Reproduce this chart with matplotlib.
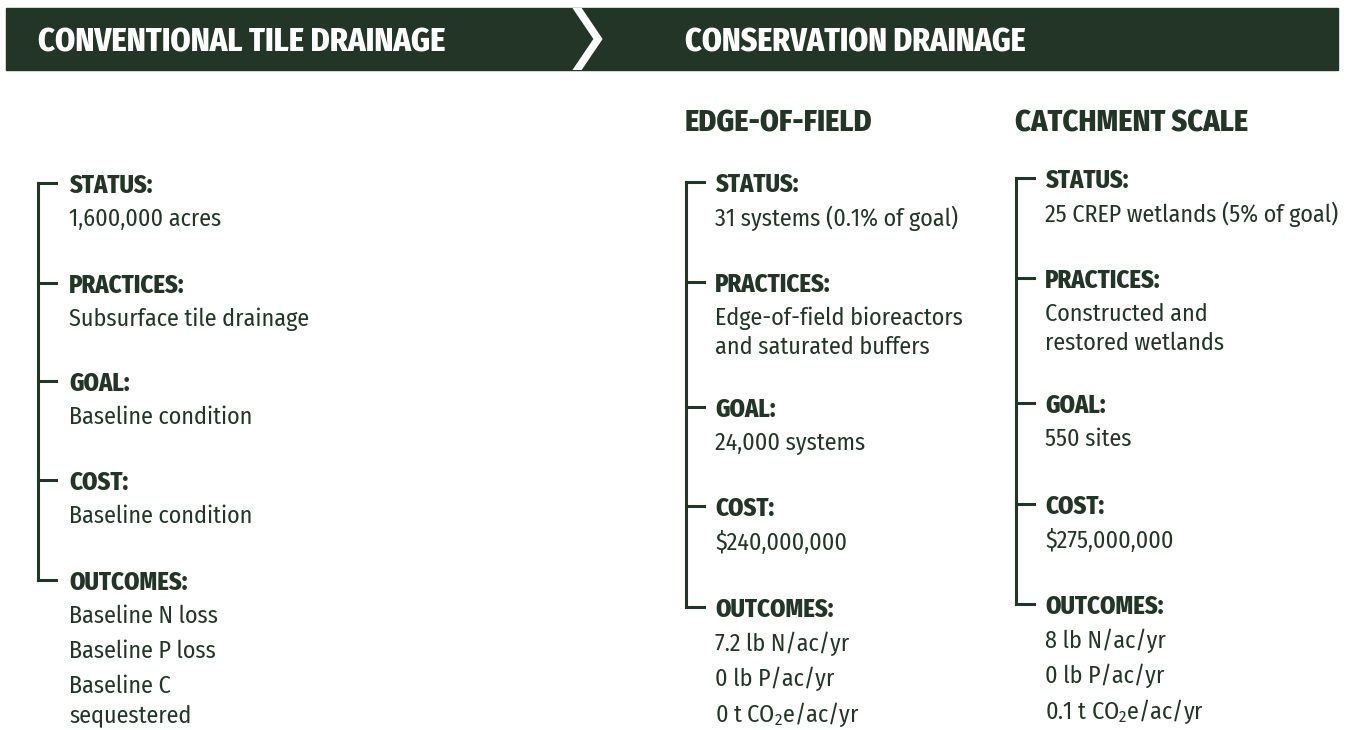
import matplotlib
matplotlib.use('Agg')
import matplotlib.pyplot as plt
from matplotlib import font_manager
from matplotlib.patches import Rectangle

# ---- data ----
header_left = 'CONVENTIONAL TILE DRAINAGE'
header_right = 'CONSERVATION DRAINAGE'
sub_titles = ['EDGE-OF-FIELD', 'CATCHMENT SCALE']
section_labels = ['STATUS:', 'PRACTICES:', 'GOAL:', 'COST:', 'OUTCOMES:']

# each section: list of items, an item may wrap over several lines (\n)
conventional = [['1,600,000 acres'],
                ['Subsurface tile drainage'],
                ['Baseline condition'],
                ['Baseline condition'],
                ['Baseline N loss', 'Baseline P loss', 'Baseline C\nsequestered']]
edge_of_field = [['31 systems (0.1% of goal)'],
                 ['Edge-of-field bioreactors\nand saturated buffers'],
                 ['24,000 systems'],
                 ['$240,000,000'],
                 ['7.2 lb N/ac/yr', '0 lb P/ac/yr', '0 t CO$_2$e/ac/yr']]
catchment = [['25 CREP wetlands (5% of goal)'],
             ['Constructed and\nrestored wetlands'],
             ['550 sites'],
             ['$275,000,000'],
             ['8 lb N/ac/yr', '0 lb P/ac/yr', '0.1 t CO$_2$e/ac/yr']]

# ---- layout ----
GREEN = '#233527'
avail = {f.name for f in font_manager.fontManager.ttflist}
def pick(*names):
    for n in names:
        if n in avail:
            return n
    return 'DejaVu Sans'
FONT = pick('Fira Sans Condensed', 'PT Sans Narrow', 'Roboto Condensed', 'Open Sans')
plt.rcParams['font.family'] = [FONT, 'DejaVu Sans']
plt.rcParams['mathtext.fontset'] = 'custom'
plt.rcParams['mathtext.rm'] = FONT
plt.rcParams['mathtext.default'] = 'regular'

columns = [
    dict(x=38, tx=69, label_y=[183, 283, 381, 480, 580], sections=conventional),
    dict(x=686, tx=715, label_y=[182, 282, 407, 506, 607], sections=edge_of_field),
    dict(x=1016, tx=1045, label_y=[178, 278, 403, 504, 604], sections=catchment),
]
first_gap = 34
item_gap = 35
wrap_gap = 29

fig = plt.figure(figsize=(13.49, 7.30), dpi=100)
ax = fig.add_axes([0, 0, 1, 1])
ax.set_xlim(0, 1349)
ax.set_ylim(730, 0)
ax.axis('off')

# header bar with chevron
bar = Rectangle((6, 8), 1332, 62, color=GREEN, zorder=1)
ax.add_patch(bar)
chev, = ax.plot([573, 598, 573], [2, 39, 76], color='white', lw=5.5,
                solid_joinstyle='miter', zorder=2)
chev.set_clip_path(bar)
ax.text(38, 39, header_left, color='white', fontsize=23.2, fontweight='heavy',
        va='center_baseline', ha='left', zorder=3)
ax.text(685, 39, header_right, color='white', fontsize=22.8, fontweight='heavy',
        va='center_baseline', ha='left', zorder=3)
for sx, st in zip([685, 1015], sub_titles):
    ax.text(sx, 120, st, color=GREEN, fontsize=21.7, fontweight='heavy',
            va='center_baseline', ha='left')

for col in columns:
    ys = col['label_y']
    ax.plot([col['x'], col['x']], [ys[0], ys[-1]], color=GREEN, lw=2.2,
            solid_capstyle='projecting')
    for y, lab, items in zip(ys, section_labels, col['sections']):
        ax.plot([col['x'], col['x'] + 18], [y, y], color=GREEN, lw=2.2,
                solid_capstyle='projecting')
        ax.text(col['tx'], y, lab, color=GREEN, fontsize=17.6, fontweight='heavy',
                va='center_baseline', ha='left')
        ty = y + first_gap
        for item in items:
            for j, line in enumerate(item.split('\n')):
                if j > 0:
                    ty += wrap_gap
                ax.text(col['tx'], ty, line, color=GREEN, fontsize=17.3,
                        va='center_baseline', ha='left')
            ty += item_gap

fig.savefig('out.png', dpi=100)
